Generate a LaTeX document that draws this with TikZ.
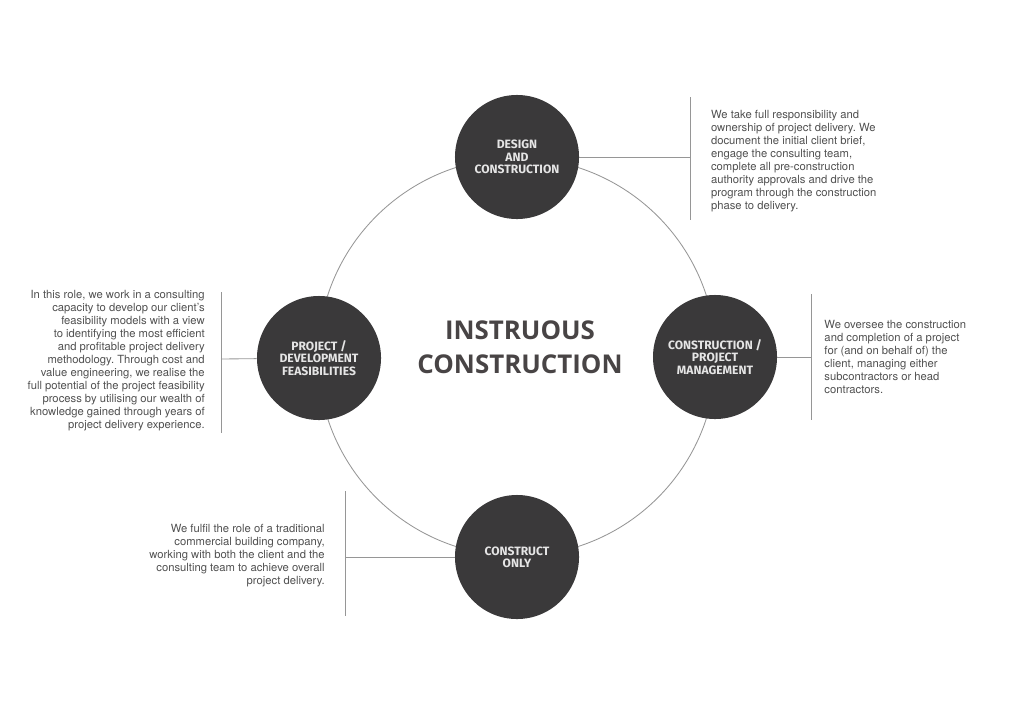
\documentclass[tikz,border=0pt]{standalone}
\usepackage{fontspec}
\setmainfont{TeX Gyre Heros}
\newfontfamily\titlefont{Open Sans}
\newfontfamily\badgefont{Fira Sans}
\usetikzlibrary{calc,positioning}
\definecolor{disc}{RGB}{58,57,58}
\definecolor{rule}{RGB}{150,150,150}
\definecolor{copy}{RGB}{80,80,80}
\definecolor{heading}{RGB}{72,68,69}
\frenchspacing

\begin{document}
\begin{tikzpicture}[x=0.025cm,y=-0.025cm,every node/.style={inner sep=0pt},
    service/.style={circle,fill=disc,minimum size=3.1cm,align=center,text=white!90!black,
        font=\badgefont\bfseries\fontsize{8.6}{8.8}\selectfont},
    blurb/.style={text=copy,font=\fontsize{8}{9.25}\selectfont},
    tie/.style={draw=rule,line width=0.6pt}]
     \useasboundingbox (0,0) rectangle (1024,724);
     \coordinate (hub) at (517,357);
     \draw[tie] (hub) circle[radius=4.975cm];
     % the four services
     \node at ($(hub)+(0,-200)$)[service](design){DESIGN\\AND\\CONSTRUCTION};
     \node at ($(hub)+(198,0)$)[service](manage){CONSTRUCTION /\\PROJECT\\MANAGEMENT};
     \node at ($(hub)+(-198,1)$)[service](feas){PROJECT /\\DEVELOPMENT\\FEASIBILITIES};
     \node at ($(hub)+(0,200)$)[service](only){CONSTRUCT\\ONLY};
     \node at ($(hub)+(3,-10)$)[text=heading,align=center,
        font=\titlefont\bfseries\fontsize{18.4}{24}\selectfont](title){INSTRUOUS\\CONSTRUCTION};
     % bars
     \coordinate (designbar) at (690,157);
     \coordinate (managebar) at (811,357);
     \coordinate (feasbar) at (221,359);
     \coordinate (onlybar) at (345,557);
     \path[tie](design)edge(designbar)($(designbar)+(0,-60)$)edge($(designbar)+(0,63)$);
     \path[tie](manage)edge(managebar)($(managebar)+(0,-63)$)edge($(managebar)+(0,63)$);
     \path[tie](feas)edge(feasbar)($(feasbar)+(0,-67)$)edge($(feasbar)+(0,74)$);
     \path[tie](only)edge(onlybar)($(onlybar)+(0,-66)$)edge($(onlybar)+(0,59)$);
     % descriptions
     \node[blurb,anchor=west,align=left,right=0.52cm of designbar,yshift=-3pt](designtext){We take full responsibility and\\
        ownership of project delivery. We\\document the initial client brief,\\
        engage the consulting team,\\complete all pre-construction\\
        authority approvals and drive the\\program through the construction\\phase to delivery.};
     \node[blurb,anchor=west,align=left,right=0.33cm of managebar](managetext){We oversee the construction\\
        and completion of a project\\for (and on behalf of) the\\client, managing either\\
        subcontractors or head\\contractors.};
     \node[blurb,anchor=east,align=right,left=0.4cm of feasbar,yshift=-1pt](feastext){In this role, we work in a consulting\\
        capacity to develop our client's\\feasibility models with a view\\
        to identifying the most efficient\\and profitable project delivery\\
        methodology. Through cost and\\value engineering, we realise the\\
        full potential of the project feasibility\\process by utilising our wealth of\\
        knowledge gained through years of\\project delivery experience.};
     \node[blurb,anchor=east,align=right,left=0.5cm of onlybar,yshift=1pt](onlytext){We fulfil the role of a traditional\\
        commercial building company,\\working with both the client and the\\
        consulting team to achieve overall\\project delivery.};
\end{tikzpicture}
\end{document}
